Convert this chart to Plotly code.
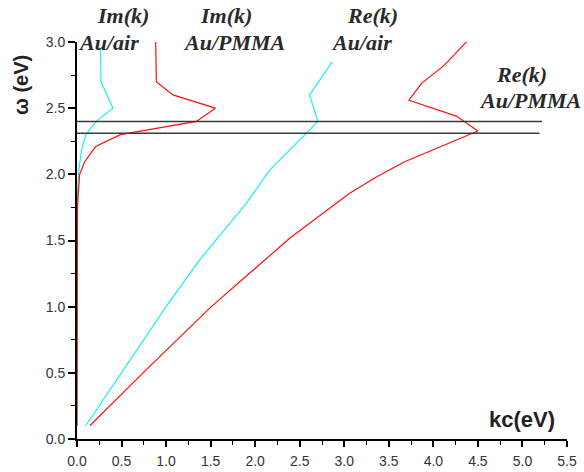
import plotly.graph_objects as go

# Im(k) Au/air (cyan)
im_air_k = [0.0, 0.003, 0.006, 0.02, 0.05, 0.098, 0.217, 0.404, 0.27, 0.263]
im_air_w = [0.10, 1.70, 1.86, 2.03, 2.18, 2.30, 2.40, 2.50, 2.70, 2.95]
# Im(k) Au/PMMA (red)
im_pm_k = [0.0, 0.005, 0.03, 0.086, 0.21, 0.487, 1.34, 1.553, 1.077, 0.891, 0.883]
im_pm_w = [0.10, 1.76, 2.00, 2.095, 2.21, 2.30, 2.40, 2.50, 2.60, 2.70, 3.00]
# Re(k) Au/air (cyan)
re_air_k = [0.098, 0.50, 1.00, 1.377, 1.90, 2.163, 2.424, 2.575, 2.705, 2.61, 2.866]
re_air_w = [0.10, 0.50, 1.00, 1.354, 1.78, 2.032, 2.208, 2.31, 2.40, 2.60, 2.85]
# Re(k) Au/PMMA (red)
re_pm_k = [0.144, 0.741, 1.508, 2.107, 2.387, 3.06, 3.36, 3.678, 4.50, 4.258, 3.726, 3.865, 4.097, 4.164, 4.377]
re_pm_w = [0.10, 0.50, 1.00, 1.354, 1.517, 1.857, 1.98, 2.095, 2.327, 2.44, 2.56, 2.686, 2.81, 2.854, 3.005]

# horizontal reference lines
hline_w = [2.40, 2.31]
hline_kend = [5.22, 5.19]

# curve labels (paper coordinates)
labels = [
    ("<b><i>Im(k)</i></b>", 0.093, 1.066), ("<b><i>Au/air</i></b>", 0.065, 0.999),
    ("<b><i>Im(k)</i></b>", 0.304, 1.066), ("<b><i>Au/PMMA</i></b>", 0.320, 0.999),
    ("<b><i>Re(k)</i></b>", 0.604, 1.066), ("<b><i>Au/air</i></b>", 0.580, 0.999),
    ("<b><i>Re(k)</i></b>", 0.908, 0.917), ("<b><i>Au/PMMA</i></b>", 0.925, 0.852),
]

fig = go.Figure()
line_cyan = dict(color="#18f0f5", width=1.2)
line_red = dict(color="#ff1010", width=1.2)
fig.add_trace(go.Scatter(x=im_air_k, y=im_air_w, mode="lines", line=line_cyan, cliponaxis=False))
fig.add_trace(go.Scatter(x=re_air_k, y=re_air_w, mode="lines", line=line_cyan, cliponaxis=False))
fig.add_trace(go.Scatter(x=im_pm_k, y=im_pm_w, mode="lines", line=line_red, cliponaxis=False))
fig.add_trace(go.Scatter(x=re_pm_k, y=re_pm_w, mode="lines", line=line_red, cliponaxis=False))
for w, ke in zip(hline_w, hline_kend):
    fig.add_trace(go.Scatter(x=[0, ke], y=[w, w], mode="lines",
                             line=dict(color="#3a3a3a", width=1.5)))

for txt, x, y in labels:
    fig.add_annotation(x=x, y=y, text=txt, showarrow=False, xref="paper", yref="paper",
                       xanchor="center", yanchor="middle",
                       font=dict(family="Liberation Serif", size=22, color="#2a2a2a"))

fig.add_annotation(x=0.909, y=0.050, text="<b>kc(eV)</b>", showarrow=False,
                   xref="paper", yref="paper", xanchor="center", yanchor="middle",
                   font=dict(family="Liberation Sans", size=22, color="#222"))
fig.add_annotation(x=-0.114, y=0.892, text="<b>ω (eV)</b>", showarrow=False,
                   xref="paper", yref="paper", xanchor="center", yanchor="middle",
                   textangle=-90, font=dict(family="Liberation Sans", size=20, color="#222"))

tickfont = dict(family="Liberation Sans", size=14, color="#333")
fig.update_layout(
    width=584, height=472,
    margin=dict(l=77, r=17, t=42, b=33),
    plot_bgcolor="white", paper_bgcolor="white",
    showlegend=False,
    xaxis=dict(range=[0, 5.5], dtick=0.5, tick0=0, tickformat=".1f", showgrid=False,
               zeroline=False, showline=True, linecolor="black", linewidth=1.5,
               automargin=False,
               ticks="outside", ticklen=6, tickwidth=1.5, tickcolor="black", tickfont=tickfont,
               ticklabelstandoff=2,
               minor=dict(dtick=0.25, ticks="outside", ticklen=4, tickwidth=1.2, tickcolor="black")),
    yaxis=dict(range=[0, 3.0], dtick=0.5, tick0=0, tickformat=".1f", showgrid=False,
               zeroline=False, showline=True, linecolor="black", linewidth=2,
               automargin=False,
               ticks="outside", ticklen=7, tickwidth=1.5, tickcolor="black", tickfont=tickfont,
               minor=dict(dtick=0.25, ticks="outside", ticklen=4, tickwidth=1.2, tickcolor="black")),
)

fig.write_html("out.html")
